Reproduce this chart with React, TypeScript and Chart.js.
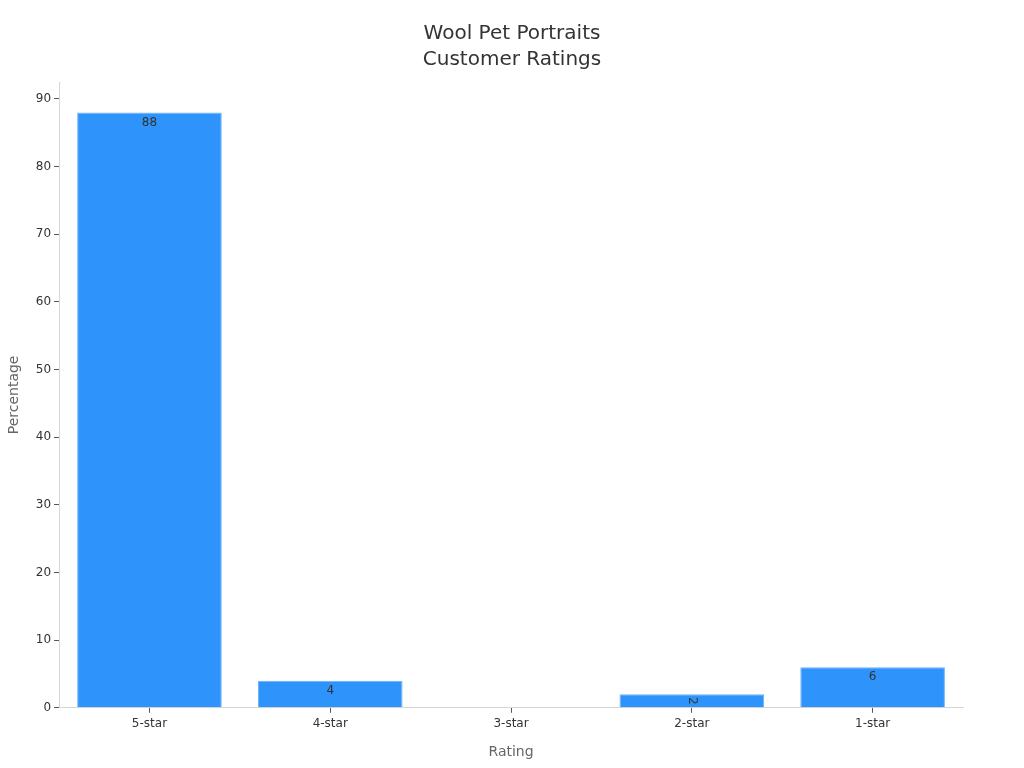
import { Chart, registerables } from "chart.js";
import { useEffect, useRef } from "react";

Chart.register(...registerables);

const ratings = ["5-star", "4-star", "3-star", "2-star", "1-star"];
const percentages = [88, 4, 0, 2, 6];
const titleLines = ["Wool Pet Portraits", "Customer Ratings"];

const FONT = "'DejaVu Sans', sans-serif";

// title centred on the whole canvas, not on the padded box
const pageTitle = {
  id: "pageTitle",
  afterDraw(chart: any) {
    const ctx = chart.ctx;
    ctx.save();
    ctx.font = `20px ${FONT}`;
    ctx.fillStyle = "#333333";
    ctx.textAlign = "center";
    ctx.textBaseline = "middle";
    titleLines.forEach((line, i) => {
      ctx.fillText(line, chart.width / 2, 34 + i * 26);
    });
    ctx.restore();
  },
};

// draws the value at the top inside each bar, sideways when the bar is thin
const valueLabels = {
  id: "valueLabels",
  afterDatasetsDraw(chart: any) {
    const ctx = chart.ctx;
    const meta = chart.getDatasetMeta(0);
    ctx.save();
    ctx.font = `12px ${FONT}`;
    ctx.fillStyle = "#333333";
    ctx.textAlign = "center";
    ctx.textBaseline = "middle";
    meta.data.forEach((bar: any, i: number) => {
      const v = percentages[i];
      if (!v) return;
      const h = bar.base - bar.y;
      if (h < 20) {
        ctx.save();
        ctx.translate(bar.x, bar.y + h / 2);
        ctx.rotate(Math.PI / 2);
        ctx.fillText(String(v), 0, 0);
        ctx.restore();
      } else {
        ctx.fillText(String(v), bar.x, bar.y + 10);
      }
    });
    ctx.restore();
  },
};

function RatingsChart() {
  const canvasRef = useRef<HTMLCanvasElement>(null);

  useEffect(() => {
    const canvas = canvasRef.current;
    if (!canvas) return;
    const chart = new Chart(canvas, {
      type: "bar",
      data: {
        labels: ratings,
        datasets: [{
          data: percentages,
          backgroundColor: "#2E93FA",
          borderColor: "#6DB3F8",
          borderWidth: 1,
          barPercentage: 0.8,
          categoryPercentage: 1,
        }],
      },
      options: {
        animation: false,
        responsive: false,
        layout: { padding: { top: 82, right: 61, bottom: 3, left: 2 } },
        plugins: {
          legend: { display: false },
          tooltip: { enabled: false },
          title: { display: false },
        },
        scales: {
          x: {
            grid: { drawOnChartArea: false, offset: false, tickLength: 5, color: "#555" },
            border: { color: "#d6d6d6" },
            ticks: { color: "#333", padding: 4, font: { family: FONT, size: 12 } },
            title: {
              display: true,
              text: "Rating",
              color: "#666",
              font: { family: FONT, size: 14 },
              padding: { top: 9 },
            },
          },
          y: {
            min: 0,
            max: 92.5,
            afterBuildTicks: (axis: any) => {
              axis.ticks = axis.ticks.filter((t: any) => t.value % 10 === 0);
            },
            grid: { drawOnChartArea: false, tickLength: 5, color: "#555" },
            border: { color: "#d6d6d6" },
            ticks: {
              stepSize: 10,
              color: "#333",
              font: { family: FONT, size: 12 },
            },
            title: {
              display: true,
              text: "Percentage",
              color: "#666",
              font: { family: FONT, size: 14 },
              padding: { bottom: 10 },
            },
          },
        },
      },
      plugins: [valueLabels, pageTitle],
    });
    return () => chart.destroy();
  }, []);

  return <canvas ref={canvasRef} width={1024} height={768}></canvas>;
}

export default function App() {
  return (
    <div style={{ position: "fixed", left: 0, top: 0, width: 1024, height: 768, background: "#fff" }}>
      <RatingsChart />
    </div>
  );
}
